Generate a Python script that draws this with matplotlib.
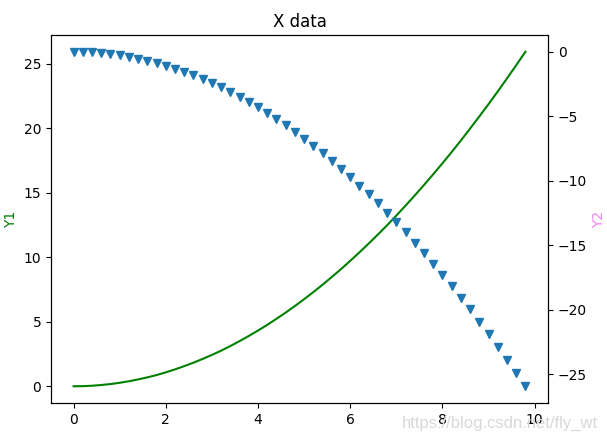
import matplotlib
matplotlib.use("Agg")
import matplotlib.pyplot as plt

x = [0.0, 0.2, 0.4, 0.6, 0.8, 1.0, 1.2, 1.4, 1.6, 1.8,
     2.0, 2.2, 2.4, 2.6, 2.8, 3.0, 3.2, 3.4, 3.6, 3.8,
     4.0, 4.2, 4.4, 4.6, 4.8, 5.0, 5.2, 5.4, 5.6, 5.8,
     6.0, 6.2, 6.4, 6.6, 6.8, 7.0, 7.2, 7.4, 7.6, 7.8,
     8.0, 8.2, 8.4, 8.6, 8.8, 9.0, 9.2, 9.4, 9.6, 9.8]

y1 = [0.00, 0.01, 0.04, 0.10, 0.17, 0.27, 0.39, 0.53, 0.69, 0.87,
      1.08, 1.31, 1.56, 1.83, 2.12, 2.43, 2.76, 3.12, 3.50, 3.90,
      4.32, 4.76, 5.23, 5.71, 6.22, 6.75, 7.30, 7.87, 8.47, 9.08,
      9.72, 10.38, 11.06, 11.76, 12.48, 13.23, 14.00, 14.79, 15.60, 16.43,
      17.28, 18.15, 19.05, 19.97, 20.91, 21.87, 22.85, 23.86, 24.88, 25.93]

y2 = [0.00, -0.01, -0.04, -0.10, -0.17, -0.27, -0.39, -0.53, -0.69, -0.87,
      -1.08, -1.31, -1.56, -1.83, -2.12, -2.43, -2.76, -3.12, -3.50, -3.90,
      -4.32, -4.76, -5.23, -5.71, -6.22, -6.75, -7.30, -7.87, -8.47, -9.08,
      -9.72, -10.38, -11.06, -11.76, -12.48, -13.23, -14.00, -14.79, -15.60, -16.43,
      -17.28, -18.15, -19.05, -19.97, -20.91, -21.87, -22.85, -23.86, -24.88, -25.93]

title = "X data"
y1_label = "Y1"
y2_label = "Y2"
watermark = "https://blog.csdn.net/fly_wt"

W, H = 607, 441
fig = plt.figure(figsize=(W / 100, H / 100), dpi=100)
ax1 = fig.add_axes([51 / W, 1 - 403 / H, (548 - 51) / W, (403 - 35) / H])
ax1.plot(x, y1, color="green")
ax1.set_ylabel(y1_label, color="green")
ax1.set_title(title)

ax2 = ax1.twinx()
ax2.plot(x, y2, "v", color="C0")
ax2.set_ylabel(y2_label, color="violet")

fig.text(598 / W, 1 - 423 / H, watermark, ha="right", va="center",
         fontsize=12, color="#d8d8d8", family="Liberation Sans")

fig.savefig("out.png", dpi=100)
